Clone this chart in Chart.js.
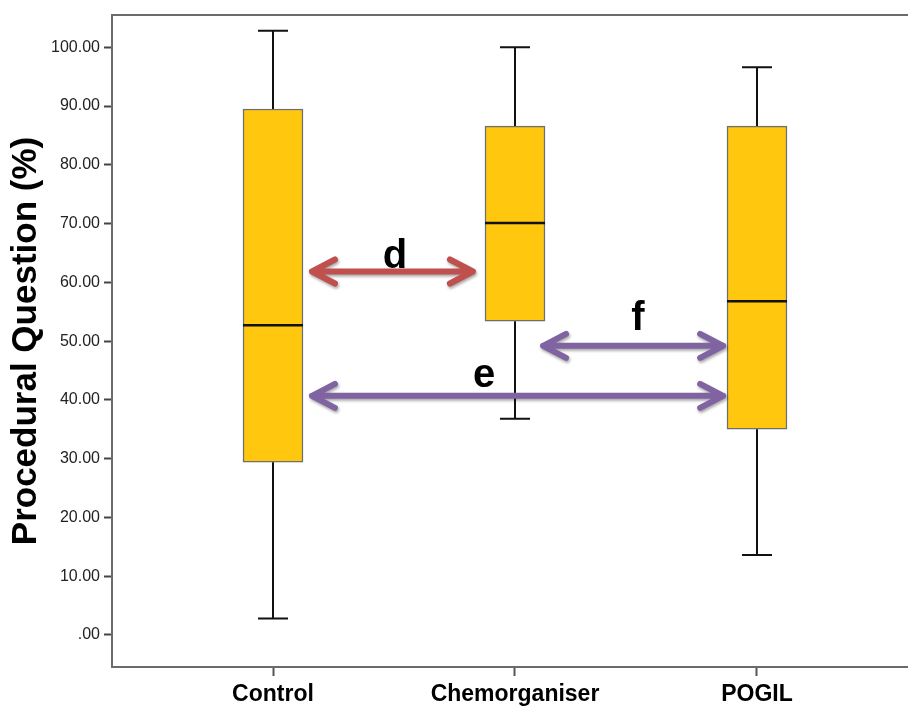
<!DOCTYPE html>
<html>
<head>
<meta charset="utf-8">
<script src="https://cdn.jsdelivr.net/npm/chart.js@4/dist/chart.umd.min.js"></script>
<style>
  html, body { margin: 0; padding: 0; background: #ffffff; }
  #wrap { width: 908px; height: 710px; position: relative; }
</style>
</head>
<body>
<div id="wrap"><canvas id="c" width="908" height="710"></canvas></div>
<script>
// ---- data ----
const categories = ['Control', 'Chemorganiser', 'POGIL'];
const whiskerLow  = [2.8, 36.8, 13.6];
const quartile1   = [29.4, 53.4, 35.0];
const medians     = [52.7, 70.1, 56.8];
const quartile3   = [89.5, 86.6, 86.6];
const whiskerHigh = [102.8, 100.0, 96.6];
const yTickValues = [0, 10, 20, 30, 40, 50, 60, 70, 80, 90, 100];

// comparison arrows (in data units: x = category index, y = %)
const arrowNames  = ['d', 'f', 'e'];
const arrowFromX  = [0.161, 1.116, 0.161];
const arrowToX    = [0.826, 1.860, 1.860];
const arrowY      = [61.85, 49.2, 40.7];
const arrowColors = ['#C0504D', '#8064A2', '#8064A2'];
const labelX      = [0.504, 1.508, 0.872];
const labelY      = [62.5, 51.9, 42.2];

const boxData = categories.map((c, i) => ({ x: i, y: [quartile1[i], quartile3[i]] }));

const FONT = "'Liberation Sans', Arial, sans-serif";

const boxPlugin = {
  id: 'boxExtras',
  afterDatasetsDraw(chart) {
    const { ctx, scales: { x, y }, chartArea } = chart;
    ctx.save();
    // top frame line
    ctx.strokeStyle = '#6b6b6b';
    ctx.lineWidth = 2;
    ctx.beginPath();
    ctx.moveTo(chartArea.left - 1, chartArea.top);
    ctx.lineTo(chartArea.right, chartArea.top);
    ctx.stroke();

    // whiskers and medians
    const meta = chart.getDatasetMeta(0);
    categories.forEach((c, i) => {
      const bar = meta.data[i];
      const cx = x.getPixelForValue(i);
      const half = bar.width / 2;
      const cap = half / 2;
      const yHi = y.getPixelForValue(whiskerHigh[i]);
      const yQ3 = y.getPixelForValue(quartile3[i]);
      const yQ1 = y.getPixelForValue(quartile1[i]);
      const yLo = y.getPixelForValue(whiskerLow[i]);
      const yMed = y.getPixelForValue(medians[i]);
      ctx.strokeStyle = '#111';
      ctx.lineWidth = 2;
      ctx.lineCap = 'butt';
      ctx.beginPath();
      ctx.moveTo(cx, yQ3); ctx.lineTo(cx, yHi);
      ctx.moveTo(cx - cap, yHi); ctx.lineTo(cx + cap, yHi);
      ctx.moveTo(cx, yQ1); ctx.lineTo(cx, yLo);
      ctx.moveTo(cx - cap, yLo); ctx.lineTo(cx + cap, yLo);
      ctx.stroke();
      ctx.lineWidth = 2.5;
      ctx.beginPath();
      ctx.moveTo(cx - half, yMed); ctx.lineTo(cx + half, yMed);
      ctx.stroke();
    });

    // arrows
    arrowNames.forEach((name, i) => {
      const x1 = x.getPixelForValue(arrowFromX[i]);
      const x2 = x.getPixelForValue(arrowToX[i]);
      const ay = y.getPixelForValue(arrowY[i]);
      ctx.save();
      ctx.shadowColor = 'rgba(0,0,0,0.35)';
      ctx.shadowBlur = 3;
      ctx.shadowOffsetX = 1;
      ctx.shadowOffsetY = 2;
      ctx.strokeStyle = arrowColors[i];
      ctx.lineWidth = 6;
      ctx.lineCap = 'round';
      ctx.lineJoin = 'round';
      ctx.beginPath();
      ctx.moveTo(x1, ay); ctx.lineTo(x2, ay);
      ctx.moveTo(x1 + 23, ay - 12); ctx.lineTo(x1, ay); ctx.lineTo(x1 + 23, ay + 12);
      ctx.moveTo(x2 - 23, ay - 12); ctx.lineTo(x2, ay); ctx.lineTo(x2 - 23, ay + 12);
      ctx.stroke();
      ctx.restore();

      ctx.fillStyle = '#000';
      ctx.font = "bold 40px " + FONT;
      ctx.textAlign = 'center';
      ctx.textBaseline = 'alphabetic';
      ctx.fillText(name, x.getPixelForValue(labelX[i]), y.getPixelForValue(labelY[i]));
    });
    ctx.restore();
  }
};

new Chart(document.getElementById('c'), {
  type: 'bar',
  data: {
    datasets: [{
      data: boxData,
      backgroundColor: '#FFC70E',
      borderColor: '#6e6e6e',
      borderWidth: 1.5,
      borderSkipped: false,
      barThickness: 60
    }]
  },
  options: {
    responsive: false,
    animation: false,
    layout: { padding: { top: 15, right: 0, bottom: 0, left: 0 } },
    plugins: { legend: { display: false }, tooltip: { enabled: false } },
    scales: {
      x: {
        type: 'linear',
        offset: false,
        min: -0.6653,
        max: 2.624,
        afterDataLimits(scale) { scale.min = -0.6653; scale.max = 2.624; },
        afterBuildTicks(scale) { scale.ticks = categories.map((c, i) => ({ value: i })); },
        afterFit(scale) { scale.height = 43; },
        ticks: {
          callback: (v) => categories[v],
          color: '#000',
          font: { family: FONT, size: 23, weight: 'bold' },
          padding: 5,
          maxRotation: 0
        },
        grid: { offset: false, drawOnChartArea: false, tickLength: 9, tickWidth: 2, tickColor: '#555' },
        border: { color: '#6b6b6b', width: 2 }
      },
      y: {
        min: -5.45,
        max: 105.5,
        afterBuildTicks(scale) { scale.ticks = yTickValues.map(v => ({ value: v })); },
        afterFit(scale) { scale.width = 112; },
        ticks: {
          callback: (v) => v === 0 ? '.00' : v.toFixed(2),
          color: '#222',
          font: { family: FONT, size: 16 },
          padding: 4
        },
        grid: { drawOnChartArea: false, tickLength: 8, tickWidth: 2, tickColor: '#444' },
        border: { color: '#6b6b6b', width: 2 },
        title: {
          display: true,
          text: 'Procedural Question (%)',
          color: '#000',
          font: { family: FONT, size: 35, weight: 'bold' },
          padding: { top: 5, bottom: 0 }
        }
      }
    }
  },
  plugins: [boxPlugin]
});
</script>
</body>
</html>
